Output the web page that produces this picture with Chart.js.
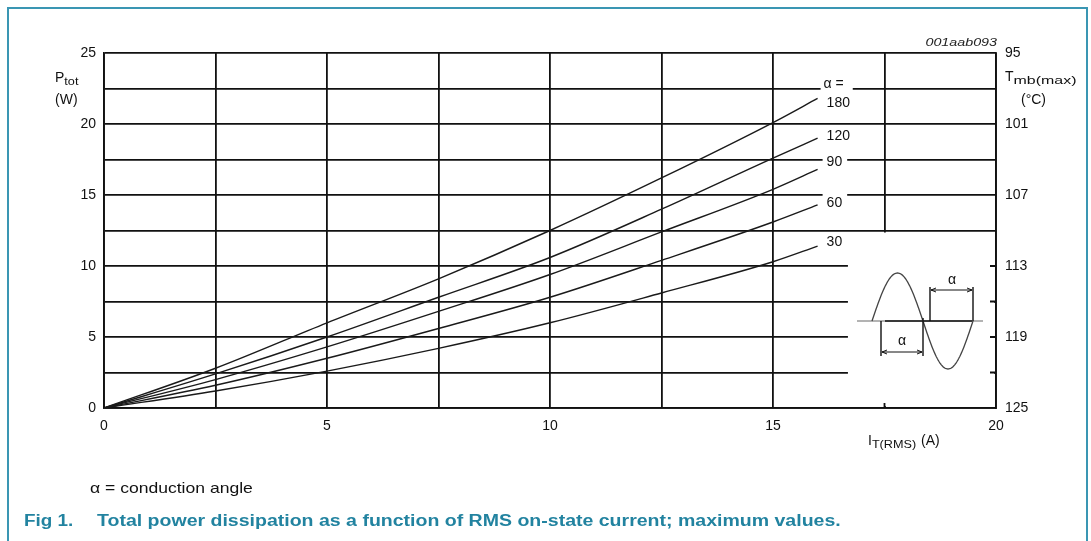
<!DOCTYPE html>
<html>
<head>
<meta charset="utf-8">
<script src="https://cdn.jsdelivr.net/npm/chart.js@4.4.0/dist/chart.umd.min.js"></script>
<style>
  html, body { margin: 0; padding: 0; background: #fff; }
  canvas { display: block; }
</style>
</head>
<body>
<canvas id="c" width="1091" height="541"></canvas>
<script>
// RMS on-state current (A)
const currentA = [0, 2.5, 5, 7.5, 10, 12.5, 15, 16];
// Total power dissipation (W) for each conduction angle
const ptot180 = [0, 2.8, 6.0, 9.1, 12.5, 16.2, 20.1, 21.8];
const ptot120 = [0, 2.4, 5.0, 7.8, 10.6, 14.0, 17.6, 19.0];
const ptot90  = [0, 2.0, 4.3, 6.8, 9.4, 12.4, 15.4, 16.8];
const ptot60  = [0, 1.6, 3.5, 5.6, 7.8, 10.4, 13.1, 14.3];
const ptot30  = [0, 1.2, 2.6, 4.2, 6.0, 8.1, 10.3, 11.4];
const angleNames = ['180', '120', '90', '60', '30'];
const seriesValues = [ptot180, ptot120, ptot90, ptot60, ptot30];
// Mounting-base temperature axis (°C), top to bottom
const tempTicks = [95, 101, 107, 113, 119, 125];

const FONT = '"Liberation Sans", Arial, sans-serif';
const INK = '#111';

// vertical nudge of each curve's end label, relative to its last point
const labelNudge = [5, -2, -7, -2, -4];

function toPoints(ys) {
  return ys.map((y, i) => ({ x: currentA[i], y: y }));
}

const datasets = seriesValues.map((ys, i) => ({
  label: angleNames[i],
  data: toPoints(ys),
  borderColor: '#1a1a1a',
  borderWidth: 1.4,
  pointRadius: 0,
  fill: false,
  cubicInterpolationMode: 'monotone',
  yAxisID: 'y'
}));

// text drawn with a horizontal stretch; returns the drawn width
function wideText(ctx, text, x, y, sx) {
  const w = ctx.measureText(text).width * sx;
  ctx.save();
  ctx.translate(x, y);
  ctx.scale(sx, 1);
  ctx.fillText(text, 0, 0);
  ctx.restore();
  return w;
}

function subText(ctx, x, y, main, sub, tail, size, subStretch) {
  ctx.textAlign = 'left';
  ctx.textBaseline = 'middle';
  ctx.font = size + 'px ' + FONT;
  ctx.fillText(main, x, y);
  let w = ctx.measureText(main).width;
  ctx.font = Math.round(size * 0.75) + 'px ' + FONT;
  w += wideText(ctx, sub, x + w, y + 4, subStretch);
  if (tail) {
    ctx.font = size + 'px ' + FONT;
    ctx.fillText(tail, x + w + 1, y);
  }
}

function arrow(ctx, x1, x2, y) {
  ctx.beginPath();
  ctx.moveTo(x1, y); ctx.lineTo(x2, y);
  ctx.moveTo(x1 + 5, y - 2); ctx.lineTo(x1, y); ctx.lineTo(x1 + 5, y + 2);
  ctx.moveTo(x2 - 5, y - 2); ctx.lineTo(x2, y); ctx.lineTo(x2 - 5, y + 2);
  ctx.stroke();
}

const decor = {
  id: 'decor',
  beforeDatasetsDraw(chart) {
    const { ctx, chartArea: a, scales } = chart;
    const xs = scales.x, ys = scales.y;
    // clear the grid behind the waveform sketch
    const left = xs.getPixelForValue(16.68);
    const top = ys.getPixelForValue(12.5) + 2;
    ctx.save();
    ctx.fillStyle = '#fff';
    ctx.fillRect(left, top, a.right - 2 - left, a.bottom - 2 - top);
    // short tick stubs left on the frame
    ctx.strokeStyle = INK;
    ctx.lineWidth = 1.8;
    ctx.beginPath();
    [2.5, 5, 7.5, 10].forEach(v => {
      const py = ys.getPixelForValue(v);
      ctx.moveTo(a.right - 6, py); ctx.lineTo(a.right, py);
    });
    const px = xs.getPixelForValue(17.5);
    ctx.moveTo(px, a.bottom - 5); ctx.lineTo(px, a.bottom);
    ctx.stroke();
    ctx.restore();
  },
  afterDatasetsDraw(chart) {
    const { ctx } = chart;
    ctx.save();
    ctx.font = '14px ' + FONT;
    ctx.textBaseline = 'middle';
    ctx.textAlign = 'left';
    chart.data.datasets.forEach((ds, i) => {
      const pts = chart.getDatasetMeta(i).data;
      const end = pts[pts.length - 1];
      const tx = end.x + 9;
      const ty = end.y + labelNudge[i];
      const w = ctx.measureText(ds.label).width;
      ctx.fillStyle = '#fff';
      ctx.fillRect(tx - 4, ty - 10, w + 9, 20);
      ctx.fillStyle = INK;
      ctx.fillText(ds.label, tx, ty);
      if (i === 0) {
        const hy = ty - 19;
        const hw = ctx.measureText('\u03b1 =').width;
        ctx.fillStyle = '#fff';
        ctx.fillRect(tx - 6, hy - 10, hw + 12, 20);
        ctx.fillStyle = INK;
        ctx.fillText('\u03b1 =', tx - 3, hy);
      }
    });
    ctx.restore();
  },
  afterDraw(chart) {
    const { ctx, chartArea: a } = chart;
    ctx.save();

    // waveform sketch: phase-controlled sine with conduction angle alpha
    const ox = 872, oy = 321, hw = 51, amp = 48;
    ctx.lineWidth = 1.4;
    ctx.strokeStyle = '#9a9a9a';
    ctx.beginPath(); ctx.moveTo(ox - 15, oy); ctx.lineTo(ox + 111, oy); ctx.stroke();
    ctx.strokeStyle = INK;
    ctx.beginPath(); ctx.moveTo(ox + 13, oy); ctx.lineTo(ox + 100, oy); ctx.stroke();
    ctx.strokeStyle = '#444';
    ctx.lineWidth = 1.3;
    ctx.beginPath();
    for (let k = 0; k <= 60; k++) {
      const t = k / 60;
      const x = ox + hw * t, y = oy - amp * Math.sin(Math.PI * t);
      k === 0 ? ctx.moveTo(x, y) : ctx.lineTo(x, y);
    }
    for (let k = 0; k <= 60; k++) {
      const t = k / 60;
      ctx.lineTo(ox + hw + (hw - 1) * t, oy + amp * Math.sin(Math.PI * t));
    }
    ctx.stroke();
    ctx.strokeStyle = INK;
    ctx.lineWidth = 1.4;
    ctx.beginPath();
    ctx.moveTo(ox + 9, oy); ctx.lineTo(ox + 9, oy + 35);
    ctx.moveTo(ox + 51, oy - 3); ctx.lineTo(ox + 51, oy + 35);
    ctx.moveTo(ox + 58, oy - 34); ctx.lineTo(ox + 58, oy);
    ctx.moveTo(ox + 101, oy - 34); ctx.lineTo(ox + 101, oy);
    ctx.stroke();
    ctx.lineWidth = 1;
    arrow(ctx, ox + 10, ox + 50, oy + 31);
    arrow(ctx, ox + 59, ox + 100, oy - 31);
    ctx.fillStyle = INK;
    ctx.font = '14px ' + FONT;
    ctx.textAlign = 'center';
    ctx.textBaseline = 'middle';
    ctx.fillText('\u03b1', ox + 30, oy + 20);
    ctx.fillText('\u03b1', ox + 80, oy - 41);

    // axis titles
    ctx.fillStyle = INK;
    subText(ctx, 55, 78, 'P', 'tot', '', 14, 1.15);
    ctx.font = '14px ' + FONT;
    ctx.textAlign = 'left';
    ctx.fillText('(W)', 55, 100);
    subText(ctx, 1005, 77, 'T', 'mb(max)', '', 14, 1.45);
    ctx.font = '14px ' + FONT;
    ctx.fillText('(\u00b0C)', 1021, 100);
    subText(ctx, 868, 441, 'I', 'T(RMS)', ' (A)', 14, 1.15);

    // drawing reference number
    ctx.font = 'italic 11px ' + FONT;
    ctx.fillStyle = '#222';
    const refNo = '001aab093';
    const rw = ctx.measureText(refNo).width * 1.3;
    wideText(ctx, refNo, a.right + 1 - rw, 43, 1.3);

    // footnote and figure caption
    ctx.fillStyle = INK;
    ctx.textAlign = 'left';
    ctx.font = '15px ' + FONT;
    wideText(ctx, '\u03b1 = conduction angle', 90, 489, 1.17);
    ctx.fillStyle = '#2283a0';
    ctx.font = 'bold 16px ' + FONT;
    wideText(ctx, 'Fig 1.', 24, 522, 1.18);
    wideText(ctx, 'Total power dissipation as a function of RMS on-state current; maximum values.', 97, 522, 1.22);

    // frame
    ctx.strokeStyle = '#3a96b3';
    ctx.lineWidth = 2;
    ctx.beginPath();
    ctx.moveTo(8, 541); ctx.lineTo(8, 8); ctx.lineTo(1087, 8); ctx.lineTo(1087, 541);
    ctx.stroke();
    ctx.restore();
  }
};

const gridOpts = { color: INK, lineWidth: 1.8, drawTicks: false };
const borderOpts = { display: true, color: INK, width: 1.8 };
const tickFont = { family: FONT, size: 14 };

new Chart(document.getElementById('c'), {
  type: 'line',
  data: { datasets: datasets },
  options: {
    responsive: false,
    devicePixelRatio: 1,
    animation: false,
    events: [],
    layout: { padding: { top: 53, left: 0, right: 0, bottom: 0 } },
    plugins: { legend: { display: false }, tooltip: { enabled: false }, title: { display: false } },
    scales: {
      x: {
        type: 'linear', min: 0, max: 20,
        grid: gridOpts, border: borderOpts,
        ticks: {
          stepSize: 2.5, padding: 10, color: INK, font: tickFont, maxRotation: 0,
          callback: v => (v % 5 === 0 ? String(v) : '')
        },
        afterFit: s => { s.height = 133; }
      },
      y: {
        type: 'linear', position: 'left', min: 0, max: 25,
        grid: gridOpts, border: borderOpts,
        ticks: {
          stepSize: 2.5, padding: 8, color: INK, font: tickFont,
          callback: v => (v % 5 === 0 ? String(v) : '')
        },
        afterFit: s => { s.width = 104; }
      },
      y2: {
        type: 'linear', position: 'right', min: tempTicks[0], max: tempTicks[tempTicks.length - 1],
        reverse: true,
        grid: { display: false, drawTicks: false }, border: borderOpts,
        afterBuildTicks: s => { s.ticks = tempTicks.map(v => ({ value: v })); },
        ticks: { padding: 9, color: INK, font: tickFont, callback: v => String(v) },
        afterFit: s => { s.width = 95; }
      }
    }
  },
  plugins: [decor]
});
</script>
</body>
</html>
